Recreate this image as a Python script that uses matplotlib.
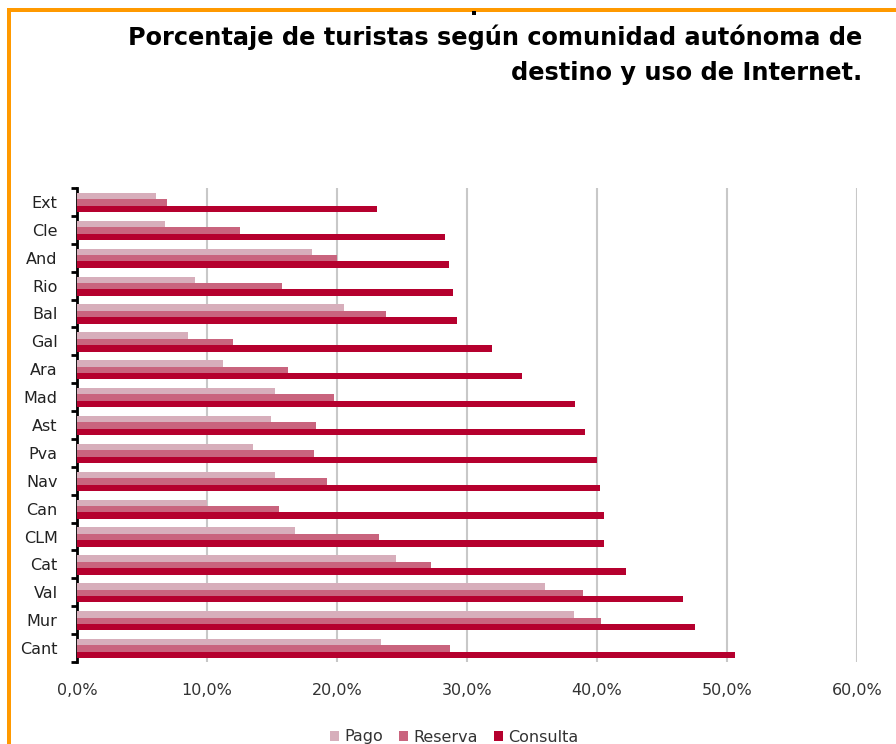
import matplotlib
matplotlib.use("Agg")
import matplotlib.pyplot as plt
from matplotlib.patches import Rectangle
from matplotlib.ticker import FixedLocator, FuncFormatter
import numpy as np

plt.rcParams['font.family'] = ['DejaVu Sans']

regions = ["Ext", "Cle", "And", "Rio", "Bal", "Gal", "Ara", "Mad", "Ast",
           "Pva", "Nav", "Can", "CLM", "Cat", "Val", "Mur", "Cant"]
pago = [6.1, 6.8, 18.1, 9.1, 20.5, 8.5, 11.2, 15.2, 14.9,
        13.5, 15.2, 10.0, 16.8, 24.5, 36.0, 38.2, 23.4]
reserva = [6.9, 12.5, 20.0, 15.8, 23.8, 12.0, 16.2, 19.8, 18.4,
           18.2, 19.2, 15.5, 23.2, 27.2, 38.9, 40.3, 28.7]
consulta = [23.1, 28.3, 28.6, 28.9, 29.2, 31.9, 34.2, 38.3, 39.1,
            40.0, 40.2, 40.5, 40.5, 42.2, 46.6, 47.5, 50.6]
series_names = ["Pago", "Reserva", "Consulta"]
colors = ["#d7aebb", "#c9647e", "#b5002e"]
x_ticks = [0, 10, 20, 30, 40, 50, 60]

fig = plt.figure(figsize=(8.96, 7.44), dpi=100)
fig.patch.set_facecolor("white")

# orange frame on the top and left edges
fig.add_artist(Rectangle((7 / 896, 1 - 12 / 744), 1, 4 / 744,
                         transform=fig.transFigure, color="#ff9900", lw=0))
fig.add_artist(Rectangle((7 / 896, 0), 4 / 896, 1 - 8 / 744,
                         transform=fig.transFigure, color="#ff9900", lw=0))
fig.add_artist(Rectangle((472 / 896, 1 - 15 / 744), 4 / 896, 4 / 744,
                         transform=fig.transFigure, color="black", lw=0))

fig.text(862 / 896, 1 - 37 / 744,
         "Porcentaje de turistas según comunidad autónoma de",
         ha="right", va="center", fontsize=17.3, fontweight="bold", color="black")
fig.text(862 / 896, 1 - 73 / 744, "destino y uso de Internet.",
         ha="right", va="center", fontsize=17.3, fontweight="bold", color="black")

ax = fig.add_axes([77 / 896, 1 - 662 / 744, (857 - 77) / 896, (662 - 188) / 744])

y = np.arange(len(regions))
h = 0.23
offsets = [-0.21, 0.02, 0.25]
for vals, off, col, name in zip([pago, reserva, consulta], offsets, colors, series_names):
    ax.barh(y + off, vals, height=h, color=col, label=name, zorder=3)

ax.set_xlim(0, 60)
ax.set_ylim(len(regions) - 0.5, -0.5)
ax.xaxis.set_major_locator(FixedLocator(x_ticks))
ax.xaxis.set_major_formatter(FuncFormatter(lambda v, p: f"{v:.1f}%".replace(".", ",")))
ax.grid(axis="x", color="#c8c8c8", lw=1.5, zorder=0)
ax.tick_params(axis="x", length=0, pad=15, labelsize=11.5, labelcolor="#333333")

ax.set_yticks(y)
ax.set_yticklabels(regions)
ax.set_yticks(np.arange(len(regions) + 1) - 0.5, minor=True)
ax.tick_params(axis="y", which="major", length=0, pad=14, labelsize=11.5, labelcolor="#222222")
ax.tick_params(axis="y", which="minor", length=4, width=2, color="black")

for side in ["top", "right", "bottom"]:
    ax.spines[side].set_visible(False)
ax.spines["left"].set_linewidth(2)
ax.spines["left"].set_color("black")

leg = fig.legend(loc="center", bbox_to_anchor=(454 / 896, 1 - 737 / 744), ncol=3,
                 frameon=False, fontsize=11.5, handlelength=0.6, handleheight=0.6,
                 handletextpad=0.3, columnspacing=1.0)
for t in leg.get_texts():
    t.set_color("#333333")

fig.savefig("out.png", dpi=100, facecolor="white")
